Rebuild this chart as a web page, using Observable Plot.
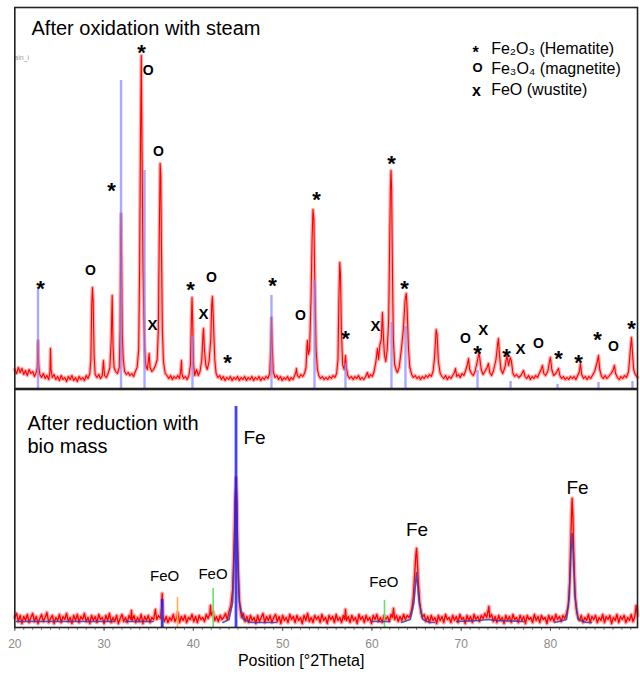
<!DOCTYPE html>
<html><head><meta charset="utf-8">
<script src="https://cdn.jsdelivr.net/npm/d3@7"></script>
<script src="https://cdn.jsdelivr.net/npm/@observablehq/plot@0.6"></script>
<style>
body{margin:0;background:#fff;font-family:"Liberation Sans",Arial,sans-serif;}
#wrap{position:relative;width:640px;height:677px;overflow:hidden;}
#top,#bot{position:absolute;left:0;}
#top{top:0}
#bot{top:388px}
svg{display:block}
</style></head><body><div id="wrap"><div id="top"></div><div id="bot"></div></div>
<script>
// ---------- top panel: after oxidation with steam (2θ, intensity) ----------
const oxTrace = [[20.0,20],[20.2,16],[20.4,22],[20.6,17],[20.8,21],[21.0,15],[21.2,19],[21.4,14],[21.6,20],[21.8,16],[22.0,18],[22.2,13],[22.4,17],
[22.52,22],[22.6,49],[22.68,24],[22.8,15],[23.0,12],[23.2,16],[23.4,11],[23.6,14],[23.8,10],
[23.94,18],[24.0,41],[24.06,20],[24.2,12],[24.4,15],[24.6,10],[24.8,13],[25.0,9],[25.2,14],[25.4,10],[25.6,12],[25.8,8],[26.0,13],[26.2,10],[26.4,14],[26.6,9],[26.8,12],[27.0,8],[27.2,13],[27.4,10],[27.6,12],[27.8,9],[28.0,14],[28.2,11],[28.4,16],
[28.52,30],[28.62,85],[28.7,102],[28.78,88],[28.88,35],[29.0,15],[29.2,12],[29.4,15],[29.6,11],[29.8,14],
[29.93,29],[30.05,14],[30.25,12],[30.45,16],[30.65,22],[30.8,50],[30.91,94],[31.0,45],[31.12,22],[31.3,18],[31.5,16],[31.7,22],
[31.8,60],[31.86,150],[31.9,176],[31.96,130],[32.04,55],[32.15,30],[32.3,18],[32.5,15],[32.7,17],[32.9,14],[33.1,16],[33.3,13],[33.5,18],[33.7,22],[33.88,40],
[33.98,120],[34.08,250],[34.17,334],[34.25,240],[34.35,130],[34.45,75],[34.55,40],[34.68,24],[34.85,20],
[34.98,30],[35.05,36],[35.15,22],[35.35,18],[35.55,20],[35.75,24],[35.95,30],[36.08,60],
[36.18,150],[36.28,226],[36.35,215],[36.43,140],[36.53,60],[36.65,28],[36.85,16],[37.05,14],[37.25,11],[37.45,14],[37.65,10],[37.85,13],[38.05,11],[38.25,14],[38.45,11],
[38.6,20],[38.67,29],[38.73,15],[38.9,11],[39.1,13],[39.3,10],[39.5,14],[39.68,25],
[39.78,70],[39.85,92],[39.92,70],[40.02,25],[40.15,14],[40.35,20],[40.55,14],[40.75,18],[40.95,30],
[41.08,55],[41.14,61],[41.24,40],[41.4,24],[41.56,20],[41.76,28],[41.95,50],
[42.06,85],[42.14,93],[42.24,70],[42.4,30],[42.55,16],[42.75,12],[42.95,14],[43.15,10],[43.35,13],[43.55,9],[43.75,12],[43.95,10],[44.15,13],[44.35,9],[44.55,12],[44.75,10],[44.95,13],[45.15,9],[45.35,12],[45.55,10],[45.75,13],[45.95,9],[46.15,12],[46.35,10],[46.55,13],[46.75,9],[46.95,12],[47.15,10],[47.35,13],[47.55,9],[47.75,12],[47.95,10],[48.15,13],[48.35,11],[48.55,16],
[48.67,40],[48.75,72],[48.83,45],[48.95,18],[49.15,12],[49.35,14],[49.55,10],[49.75,13],[49.95,9],[50.15,12],[50.35,10],[50.55,13],[50.75,9],[50.95,12],[51.15,10],[51.35,14],
[51.48,17],[51.55,21],[51.65,14],[51.85,12],[52.05,15],[52.25,13],[52.45,16],[52.62,22],
[52.72,42],[52.78,49],[52.88,35],[53.02,40],[53.18,90],
[53.3,150],[53.4,180],[53.5,170],[53.6,110],[53.75,40],[53.9,20],[54.05,14],[54.25,11],[54.45,13],[54.65,10],[54.85,12],[55.05,10],[55.25,13],[55.45,11],[55.65,14],[55.85,12],[56.05,16],[56.2,30],
[56.3,90],[56.4,127],[56.48,115],[56.58,60],[56.72,25],[56.9,20],
[57.04,34],[57.14,22],[57.3,14],[57.5,11],[57.7,13],[57.9,10],[58.1,13],[58.3,11],[58.5,14],[58.7,10],[58.9,12],[59.1,10],[59.3,13],
[59.5,17],[59.65,12],[59.85,15],[60.05,13],[60.25,18],[60.45,28],
[60.62,41],[60.75,30],[60.9,45],[61.05,50],
[61.18,77],[61.28,55],[61.4,35],[61.55,28],[61.72,40],[61.88,70],
[61.98,140],[62.07,200],[62.14,219],[62.21,200],[62.3,120],[62.4,50],[62.55,25],[62.7,20],[62.85,17],[63.05,22],[63.3,40],
[63.52,60],[63.72,90],[63.85,96],[63.95,80],[64.1,40],[64.25,22],[64.45,15],[64.65,12],[64.85,14],[65.05,11],[65.25,13],[65.45,10],[65.65,13],[65.85,11],[66.05,14],[66.25,12],[66.45,15],[66.65,13],[66.85,18],[67.0,30],
[67.1,45],[67.2,60],[67.3,55],[67.45,28],[67.65,16],[67.85,13],[68.05,11],[68.25,14],[68.45,10],[68.65,13],[68.85,11],[69.05,14],[69.25,17],
[69.36,21],[69.5,13],[69.7,15],[69.9,12],[70.1,16],[70.3,14],[70.5,19],[70.7,25],
[70.82,31],[70.95,20],[71.15,16],[71.35,14],[71.55,18],[71.8,28],
[72.0,37],[72.1,30],[72.25,20],[72.45,15],[72.65,18],[72.9,22],
[73.06,26],[73.2,17],[73.4,14],[73.6,18],[73.9,30],
[74.08,45],[74.18,51],[74.28,36],[74.45,20],[74.65,16],[74.9,22],
[75.12,34],[75.3,24],[75.5,32],[75.63,28],[75.8,16],[76.0,13],[76.2,15],[76.45,12],[76.7,14],
[76.98,19],[77.15,13],[77.35,11],[77.55,14],[77.75,10],[77.95,13],[78.15,11],[78.35,14],[78.55,12],[78.8,17],
[79.0,21],[79.11,24],[79.25,16],[79.45,14],[79.7,18],
[79.9,28],[80.0,32],[80.15,20],[80.35,14],[80.6,16],
[80.9,21],[81.05,14],[81.25,11],[81.45,13],[81.65,10],[81.85,12],[82.05,10],[82.25,13],[82.45,11],[82.65,13],[82.85,10],[83.05,14],[83.25,18],
[83.36,26],[83.5,15],[83.7,11],[83.9,13],[84.1,10],[84.3,13],[84.5,11],[84.7,14],[84.95,18],
[85.25,28],[85.38,34],[85.52,20],[85.72,13],[85.92,11],[86.12,14],[86.32,11],[86.52,13],[86.8,16],
[87.05,20],[87.17,24],[87.3,16],[87.5,12],[87.7,10],[87.9,13],[88.1,11],[88.3,14],[88.5,12],[88.75,18],
[88.95,40],[89.08,52],[89.18,38],[89.32,20],[89.5,15],[89.75,12]];

// reference pattern sticks (2θ, height)
const oxSticks = [[22.6,102],[31.9,309],[34.53,219],[39.9,53],[48.75,94],[53.57,109],[57.04,26],[62.19,67],[63.76,63],[71.83,19],[75.53,8],[80.79,5],[85.38,7],[89.19,8]];

// phase marks (2θ, height where the mark sits)
const hematiteMarks = [[22.88,106],[30.83,204],[34.2,342],[39.68,105],[43.82,32],[48.86,109],[53.79,195],[57.04,56],[62.19,231],[63.65,106],[71.83,41],[75.08,38],[80.9,36],[83.14,32],[85.27,55],[89.08,66]];
const magnetiteMarks = [[28.48,119],[34.95,319],[36.1,238],[42.03,112],[52.0,74],[70.48,51],[78.66,46],[87.06,43]];
const wustiteMarks = [[35.42,64],[41.13,75],[60.4,63],[72.47,59],[76.64,40]];

const legendSymbols = ["*", "O", "x"];
const legendNames = ["Fe\u2082O\u2083 (Hematite)", "Fe\u2083O\u2084 (magnetite)", "FeO (wustite)"];

// ---------- bottom panel: after reduction with bio mass ----------
const redTrace = [[20.0,10],[20.2,14],[20.4,6],[20.6,12],[20.8,4],[21.0,11],[21.2,7],[21.4,13],[21.6,5],[21.8,10],[22.0,14],[22.2,6],[22.4,11],[22.6,4],[22.8,9],[23.0,13],[23.2,6],[23.4,10],[23.6,15],[23.8,5],[24.0,9],[24.2,12],[24.4,4],[24.6,10],[24.8,7],[25.0,13],[25.2,5],[25.4,11],[25.6,8],[25.8,14],[26.0,6],[26.2,10],[26.4,4],[26.6,12],[26.8,7],[27.0,13],[27.2,5],[27.4,11],[27.6,8],[27.8,14],[28.0,6],[28.2,10],[28.4,4],[28.6,12],[28.8,7],[29.0,11],[29.2,5],[29.4,13],[29.6,8],[29.8,10],[30.0,4],[30.2,12],[30.4,7],[30.6,14],[30.8,5],[31.0,10],[31.2,6],[31.4,12],[31.6,4],[31.8,9],[32.0,13],[32.2,6],[32.4,10],[32.6,5],[32.8,12],[33.0,8],[33.07,17],[33.15,7],[33.35,12],[33.55,5],[33.75,10],[33.95,6],[34.15,13],[34.35,4],[34.55,11],[34.75,7],[34.95,12],[35.15,5],[35.35,10],[35.55,8],[35.75,18],[35.9,8],[36.1,12],[36.3,9],[36.45,22],[36.51,34],[36.58,12],[36.75,6],[36.95,11],[37.15,5],[37.35,10],[37.55,7],[37.75,13],[37.95,6],[38.15,10],[38.25,15],[38.45,5],[38.65,11],[38.85,7],[39.05,12],[39.25,5],[39.45,10],[39.65,8],[39.85,13],[40.05,6],[40.25,11],[40.45,5],[40.65,12],[40.85,8],[41.05,10],[41.25,6],[41.45,13],[41.65,9],[41.85,14],[41.92,22],[42.0,12],[42.2,16],[42.4,7],[42.6,11],[42.8,6],[43.0,12],[43.2,8],[43.4,10],[43.6,14],[43.8,8],[44.0,16],[44.2,22],[44.4,38],[44.55,80],[44.68,130],[44.78,150],[44.88,125],[44.98,70],[45.1,35],[45.25,18],[45.4,10],[45.6,14],[45.8,6],[46.0,11],[46.2,5],[46.4,12],[46.6,7],[46.8,10],[47.0,4],[47.2,12],[47.4,6],[47.6,10],[47.8,14],[48.0,5],[48.2,11],[48.4,7],[48.6,12],[48.8,5],[49.0,10],[49.2,13],[49.4,6],[49.6,11],[49.8,4],[50.0,12],[50.2,7],[50.4,10],[50.6,5],[50.8,13],[51.0,8],[51.2,11],[51.4,5],[51.6,12],[51.8,7],[52.0,10],[52.2,4],[52.4,12],[52.6,7],[52.8,14],[53.0,6],[53.2,10],[53.4,5],[53.6,12],[53.8,8],[54.0,11],[54.2,5],[54.4,13],[54.6,7],[54.8,10],[55.0,4],[55.2,12],[55.4,8],[55.6,11],[55.8,5],[56.0,13],[56.2,7],[56.4,10],[56.6,5],[56.8,12],[56.95,8],[57.04,18],[57.15,7],[57.35,11],[57.55,5],[57.75,12],[57.95,7],[58.15,10],[58.35,4],[58.55,13],[58.75,8],[58.95,11],[59.15,5],[59.35,12],[59.55,7],[59.75,10],[59.95,4],[60.15,12],[60.35,8],[60.55,13],[60.75,6],[60.95,10],[61.15,5],[61.35,12],[61.55,8],[61.75,11],[61.95,6],[62.15,13],[62.3,10],[62.42,19],[62.55,8],[62.75,12],[62.95,6],[63.15,11],[63.35,7],[63.55,13],[63.75,8],[63.95,12],[64.15,10],[64.35,14],[64.5,20],[64.65,32],[64.8,55],[64.92,72],[65.0,79],[65.08,68],[65.2,45],[65.35,26],[65.5,15],[65.65,10],[65.85,13],[66.05,6],[66.25,11],[66.45,5],[66.65,12],[66.85,7],[67.05,10],[67.25,4],[67.45,12],[67.65,7],[67.85,11],[68.05,5],[68.25,13],[68.45,8],[68.65,10],[68.85,5],[69.05,12],[69.25,7],[69.45,11],[69.65,5],[69.85,13],[70.05,8],[70.25,10],[70.45,4],[70.65,12],[70.85,7],[71.05,11],[71.25,5],[71.45,13],[71.65,8],[71.85,11],[72.05,6],[72.25,12],[72.45,9],[72.65,14],[72.85,10],[73.0,16],[73.1,21],[73.2,10],[73.4,13],[73.6,6],[73.8,11],[74.0,5],[74.2,12],[74.4,7],[74.6,10],[74.8,4],[75.0,12],[75.2,7],[75.4,11],[75.6,5],[75.8,13],[76.0,8],[76.2,10],[76.4,5],[76.6,12],[76.8,7],[77.0,11],[77.2,4],[77.4,12],[77.6,8],[77.8,10],[78.0,5],[78.2,13],[78.4,7],[78.6,11],[78.8,5],[79.0,12],[79.2,8],[79.4,10],[79.6,4],[79.8,12],[80.0,7],[80.2,11],[80.4,6],[80.6,13],[80.8,8],[81.0,11],[81.2,6],[81.4,12],[81.6,9],[81.8,14],[82.0,22],[82.15,45],[82.28,90],[82.38,118],[82.43,129],[82.52,110],[82.62,70],[82.75,35],[82.9,18],[83.05,11],[83.25,7],[83.45,12],[83.65,5],[83.85,10],[84.05,7],[84.25,13],[84.45,5],[84.65,11],[84.85,8],[85.05,12],[85.25,5],[85.45,10],[85.65,7],[85.85,13],[86.05,5],[86.25,11],[86.45,8],[86.65,12],[86.85,4],[87.05,10],[87.25,7],[87.45,13],[87.65,5],[87.85,11],[88.05,8],[88.25,12],[88.45,5],[88.65,10],[88.85,7],[89.05,13],[89.25,6],[89.45,11],[89.6,22],[89.75,12]];

// fitted profile (2θ, intensity, segment)
const fitProfile = [[20.2,6,"a"],[31.1,6,"a"],[32.4,6,"b"],[35.5,6,"b"],
[43.3,5,"c"],[44.0,8,"c"],[44.4,25,"c"],[44.6,80,"c"],[44.78,150,"c"],[44.95,80,"c"],[45.15,25,"c"],[45.6,8,"c"],[46.5,5,"c"],[49.3,5,"c"],
[60.0,6,"d"],[62.0,6,"d"],
[63.3,5,"e"],[64.3,8,"e"],[64.7,25,"e"],[64.9,45,"e"],[65.0,55,"e"],[65.1,45,"e"],[65.3,25,"e"],[65.7,8,"e"],[66.5,5,"e"],[67.0,5,"e"],
[69.5,6,"f"],[72.0,7,"f"],[73.0,8,"f"],[74.0,7,"f"],[77.0,6,"f"],
[80.5,5,"g"],[81.8,8,"g"],[82.1,30,"g"],[82.3,75,"g"],[82.43,94,"g"],[82.55,75,"g"],[82.75,30,"g"],[83.1,8,"g"],[84.0,5,"g"],[84.6,5,"g"]];

const feStick = [[44.78,221],[36.51,28]];
const greenSticks = [[36.55,15],[42.22,39],[61.41,27]];
const orangeSticks = [[38.22,30],[36.45,20]];

const feLabels = [[46.85,190],[65.05,98],[83.04,140]];
const feoLabels = [[36.78,51],[42.2,53],[61.35,45]];

const majorTicks = [20, 30, 40, 50, 60, 70, 80];
const minorTicks = d3.range(20, 90, 1);

// ---------- drawing ----------
const FONT = "Liberation Sans, Arial, sans-serif";
const X = {domain: [20, 89.75], axis: null};
const px = d => d[0], py = d => d[1];

const legendMarks = [];
const legendRowY = [42, 62, 83];
const symSize = [16, 13, 16];
const symDy = [4, 0, 1];
const symDx = [460.7, 462.7, 461.7];
legendSymbols.forEach((s, i) => {
  legendMarks.push(Plot.text([s], {frameAnchor: "top-left", dx: symDx[i], dy: legendRowY[i] - 7 + symDy[i], textAnchor: "middle", fontSize: symSize[i], fontWeight: "bold", fill: "#000"}));
  legendMarks.push(Plot.text([legendNames[i]], {frameAnchor: "top-left", dx: 476.4, dy: legendRowY[i] - 7, textAnchor: "start", fontSize: 16, fill: "#000"}));
});

const topPlot = Plot.plot({
  width: 640, height: 389,
  marginTop: 7, marginBottom: 1, marginLeft: 14.3, marginRight: 3,
  style: {fontFamily: FONT, background: "transparent", overflow: "visible"},
  x: X,
  y: {domain: [0, 382], range: [389, 7], axis: null},
  marks: [
    Plot.line(oxTrace, {x: px, y: py, stroke: "#ff8f8f", strokeWidth: 3.6, strokeOpacity: 0.75}),
    Plot.line(oxTrace, {x: px, y: py, stroke: "#ff0000", strokeWidth: 1.1}),
    Plot.ruleX(oxSticks, {x: px, y: py, stroke: "#8484ff", strokeWidth: 2.4, strokeOpacity: 0.7}),
    Plot.text(hematiteMarks, {x: px, y: py, text: () => "*", fontSize: 22, fontWeight: "bold", dy: 5, fill: "#000"}),
    Plot.text(magnetiteMarks, {x: px, y: py, text: () => "O", fontSize: 14, fontWeight: "bold", fill: "#000"}),
    Plot.text(wustiteMarks, {x: px, y: py, text: () => "X", fontSize: 15, fontWeight: "bold", fill: "#000"}),
    Plot.text(["After oxidation with steam"], {frameAnchor: "top-left", dx: 16.7, dy: 13.7, lineAnchor: "top", textAnchor: "start", fontSize: 20, fill: "#000"}),
    Plot.text(["ain_i"], {frameAnchor: "top-left", dx: -0.5, dy: 50, lineAnchor: "middle", textAnchor: "start", fontSize: 7, fill: "#999"}),
    ...legendMarks,
    Plot.frame({stroke: "#222", strokeWidth: 1.6})
  ]
});
document.getElementById("top").append(topPlot);

const botPlot = Plot.plot({
  width: 640, height: 289,
  marginTop: 1, marginBottom: 50, marginLeft: 14.3, marginRight: 3,
  style: {fontFamily: FONT, background: "transparent", overflow: "visible"},
  x: X,
  y: {domain: [0, 238], range: [239, 1], axis: null},
  marks: [
    Plot.line(redTrace, {x: px, y: py, stroke: "#ff5a5a", strokeWidth: 4, strokeOpacity: 0.55}),
    Plot.line(redTrace, {x: px, y: py, stroke: "#ff0000", strokeWidth: 1.3}),
    Plot.ruleX(greenSticks, {x: px, y: py, stroke: "#66e066", strokeWidth: 1.6}),
    Plot.ruleX(orangeSticks, {x: px, y: py, stroke: "#ffb050", strokeWidth: 1.6}),
    Plot.line(fitProfile, {x: px, y: py, z: d => d[2], stroke: "#3a3ab0", strokeWidth: 1.6, strokeOpacity: 0.85}),
    Plot.ruleX(feStick, {x: px, y: py, stroke: "#2020ff", strokeWidth: 2.8, strokeOpacity: 0.85}),
    Plot.text(feLabels, {x: px, y: py, text: () => "Fe", fontSize: 19, fill: "#000"}),
    Plot.text(feoLabels, {x: px, y: py, text: () => "FeO", fontSize: 15, fill: "#000"}),
    Plot.text(["After reduction with\nbio mass"], {frameAnchor: "top-left", dx: 12.7, dy: 24, lineAnchor: "top", textAnchor: "start", fontSize: 20, lineHeight: 1.15, fill: "#000"}),
    Plot.axisX(minorTicks, {tickSize: 3, text: null, stroke: "#666", strokeWidth: 0.8}),
    Plot.axisX(majorTicks, {tickSize: 4, tickPadding: 7.5, fontSize: 12, fill: "#8a8a8a", stroke: "#666", tickFormat: d => String(d)}),
    Plot.text(["Position [\u00b02Theta]"], {frameAnchor: "bottom", dx: -25, dy: 38, fontSize: 16, fill: "#000"}),
    Plot.frame({stroke: "#222", strokeWidth: 1.6})
  ]
});
document.getElementById("bot").append(botPlot);
</script>
</body></html>
